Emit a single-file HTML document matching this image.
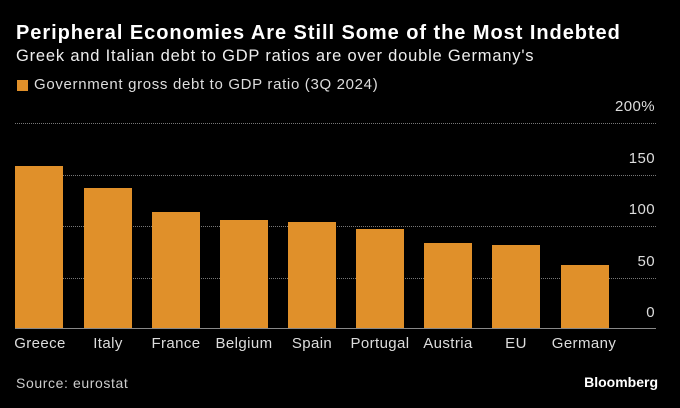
<!DOCTYPE html>
<html><head><style>
body{margin:0;width:680px;height:408px;background:#000;overflow:hidden;font-family:"Liberation Sans",sans-serif;color:#fff;position:relative}
.a{position:absolute;white-space:nowrap}
.g{position:absolute;left:15px;width:641px;border-top:1px dotted #777;height:0}
.b{position:absolute;width:48px;background:#E0902A}
.t{position:absolute;top:335px;font-size:15px;color:#ddd;width:80px;text-align:center;letter-spacing:0.4px}
.y{position:absolute;right:25px;font-size:15px;color:#ddd;letter-spacing:0.4px}
</style></head><body>
<div class="a" style="left:16px;top:22px;font-size:20px;font-weight:bold;letter-spacing:0.95px">Peripheral Economies Are Still Some of the Most Indebted</div>
<div class="a" style="left:16px;top:47px;font-size:16.5px;color:#eee;letter-spacing:0.8px">Greek and Italian debt to GDP ratios are over double Germany's</div>
<div class="a" style="left:17px;top:80px;width:11px;height:11px;background:#E0902A"></div>
<div class="a" style="left:34px;top:76px;font-size:15px;color:#ddd;letter-spacing:0.67px">Government gross debt to GDP ratio (3Q 2024)</div>
<div class="g" style="top:123px"></div>
<div class="g" style="top:175px"></div>
<div class="g" style="top:226px"></div>
<div class="g" style="top:278px"></div>
<div class="y" style="top:98px">200%</div>
<div class="y" style="top:150px">150</div>
<div class="y" style="top:201px">100</div>
<div class="y" style="top:253px">50</div>
<div class="y" style="top:304px">0</div>
<div class="b" style="left:15px;top:166px;height:163px"></div>
<div class="b" style="left:84px;top:188px;height:141px"></div>
<div class="b" style="left:152px;top:212px;height:117px"></div>
<div class="b" style="left:220px;top:220px;height:109px"></div>
<div class="b" style="left:288px;top:222px;height:107px"></div>
<div class="b" style="left:356px;top:229px;height:100px"></div>
<div class="b" style="left:424px;top:243px;height:86px"></div>
<div class="b" style="left:492px;top:245px;height:84px"></div>
<div class="b" style="left:561px;top:265px;height:64px"></div>
<div class="a" style="left:15px;top:328px;width:641px;height:1px;background:#888"></div>
<div class="t" style="left:0px">Greece</div>
<div class="t" style="left:68px">Italy</div>
<div class="t" style="left:136px">France</div>
<div class="t" style="left:204px">Belgium</div>
<div class="t" style="left:272px">Spain</div>
<div class="t" style="left:340px">Portugal</div>
<div class="t" style="left:408px">Austria</div>
<div class="t" style="left:476px">EU</div>
<div class="t" style="left:544px">Germany</div>
<div class="a" style="left:16px;top:375px;font-size:14px;color:#ccc;letter-spacing:0.6px">Source: eurostat</div>
<div class="a" style="right:22px;top:374px;font-size:14px;font-weight:bold">Bloomberg</div>
</body></html>
